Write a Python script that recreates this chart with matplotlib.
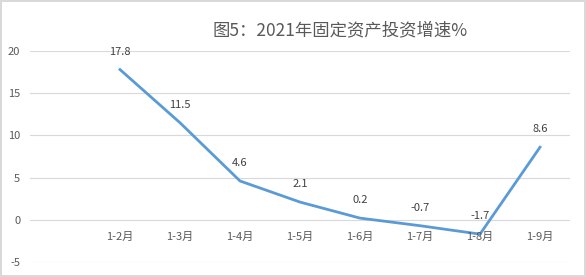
import matplotlib
matplotlib.use("Agg")
import matplotlib.pyplot as plt
import numpy as np

plt.rcParams['font.family'] = ['Noto Sans CJK SC', 'DejaVu Sans']

categories = ["", "1-2月", "1-3月", "1-4月", "1-5月", "1-6月", "1-7月", "1-8月", "1-9月"]
values = [np.nan, 17.8, 11.5, 4.6, 2.1, 0.2, -0.7, -1.7, 8.6]
labels = ["", "17.8", "11.5", "4.6", "2.1", "0.2", "-0.7", "-1.7", "8.6"]
yticks = [-5, 0, 5, 10, 15, 20]
title = "图5：2021年固定资产投资增速%"

fig = plt.figure(figsize=(5.86, 2.77), dpi=100)
fig.patch.set_facecolor("white")
fig.patch.set_edgecolor("#D9D9D9")
fig.patch.set_linewidth(1.5)

ax = fig.add_axes([30/586, 15/277, 540/586, 211/277])
x = np.arange(len(categories))
ax.plot(x, values, color="#5B9BD5", lw=2.0, solid_joinstyle="round", zorder=3)

ax.set_xlim(-0.5, len(categories) - 0.5)
ax.set_ylim(-5, 20)
ax.set_yticks(yticks)
ax.set_yticklabels([str(t) for t in yticks], fontsize=8, color="#595959")
ax.tick_params(axis="y", length=0, pad=7)
ax.set_xticks([])
for s in ax.spines.values():
    s.set_visible(False)
ax.grid(axis="y", color="#D9D9D9", lw=0.8)
ax.set_axisbelow(True)

for xi, v, lab in zip(x, values, labels):
    if lab:
        ax.annotate(lab, (xi, v), xytext=(0, 13), textcoords="offset points",
                    ha="center", va="center", fontsize=8, color="#404040")

for xi, c in zip(x, categories):
    if c:
        ax.annotate(c, (xi, 0), xytext=(0, -12), textcoords="offset points",
                    ha="center", va="center", fontsize=8, color="#595959")

fig.text(340/586, 1 - 30/277, title, ha="center", va="center",
         fontsize=12.5, color="#595959")

fig.savefig("out.png", dpi=100, facecolor=fig.get_facecolor(), edgecolor=fig.get_edgecolor())
